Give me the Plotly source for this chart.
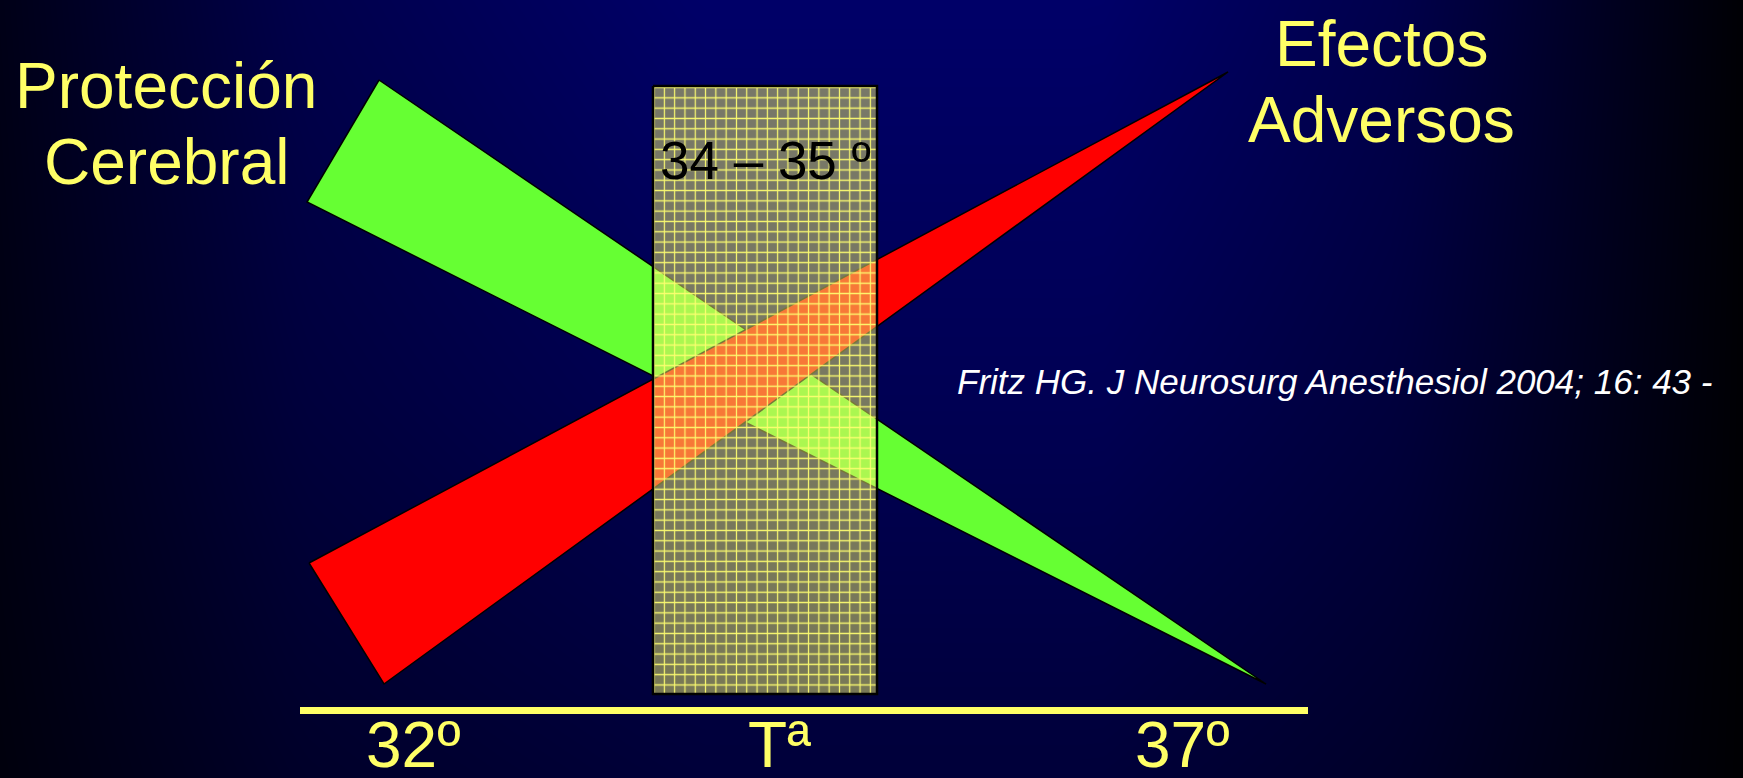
import numpy as np
import plotly.graph_objects as go

W, H = 1743, 778

# --- diagram geometry (slide pixel coordinates, y grows downward) ---
proteccion_x = [379, 307, 1266]          # green wedge: Protección Cerebral
proteccion_y = [80, 202, 684]
adversos_x = [309, 384, 1228]            # red wedge: Efectos Adversos
adversos_y = [563, 684, 72]
ventana_x = [653, 877]                   # target window 34 – 35 º
ventana_y = [86, 694]
eje_x = [300, 1308]                      # temperature axis line
eje_y = [710.5, 710.5]

etiquetas_eje = ["32º", "Tª", "37º"]
etiquetas_eje_x = [413, 779, 1182]

# background shading profile (relative brightness of the navy backdrop)
fondo_stops_x = [0, 300, 700, 1100, 1400, 1743]
fondo_nivel_x = [0.22, 0.72, 1.0, 1.0, 0.72, 0.04]
fondo_stops_y = [0, 400, 778]
fondo_nivel_y = [1.0, 0.8, 0.55]

AMARILLO = "#ffff66"
FUENTE = "Liberation Sans, Arial, sans-serif"

fig = go.Figure()

# navy gradient backdrop
gx = np.linspace(0, W, 80)
gy = np.linspace(0, H, 40)
zx = np.interp(gx, fondo_stops_x, fondo_nivel_x)
zy = np.interp(gy, fondo_stops_y, fondo_nivel_y)
fig.add_trace(go.Heatmap(
    x=gx, y=gy, z=np.outer(zy, zx),
    zmin=0, zmax=1, zsmooth="best", showscale=False, hoverinfo="skip",
    colorscale=[[0, "rgb(0,0,0)"], [1, "rgb(0,0,104)"]],
))


def cerrado(v):
    return list(v) + [v[0]]


# green wedge
fig.add_trace(go.Scatter(
    x=cerrado(proteccion_x), y=cerrado(proteccion_y), mode="lines",
    fill="toself", fillcolor="#66ff33",
    line=dict(color="black", width=1.5), hoverinfo="skip",
))
# red wedge drawn on top
fig.add_trace(go.Scatter(
    x=cerrado(adversos_x), y=cerrado(adversos_y), mode="lines",
    fill="toself", fillcolor="#ff0000",
    line=dict(color="black", width=1.5), hoverinfo="skip",
))

# translucent gridded window
rx = [ventana_x[0], ventana_x[1], ventana_x[1], ventana_x[0]]
ry = [ventana_y[0], ventana_y[0], ventana_y[1], ventana_y[1]]
fig.add_trace(go.Scatter(
    x=cerrado(rx), y=cerrado(ry), mode="lines",
    fill="toself", fillcolor="rgba(240,240,110,0.5)",
    fillpattern=dict(shape="+", size=10.3, solidity=0.22,
                     fgcolor="#ffff70", fgopacity=0.95,
                     bgcolor="rgba(240,240,110,0.5)", fillmode="replace"),
    line=dict(color="black", width=2.5), hoverinfo="skip",
))

# temperature axis
fig.add_trace(go.Scatter(
    x=eje_x, y=eje_y, mode="lines",
    line=dict(color=AMARILLO, width=7), hoverinfo="skip",
))

anot = []


def texto(t, x, base, size, color=AMARILLO, xanchor="center", italic=False):
    anot.append(dict(
        text=t, x=x, y=base - 0.36 * size, xref="x", yref="y",
        xanchor=xanchor, yanchor="middle", showarrow=False,
        font=dict(family=FUENTE, size=size, color=color,
                  style="italic" if italic else "normal"),
    ))


texto("Protección", 166, 109, 64)
texto("Cerebral", 166, 185, 64)
texto("Efectos", 1381, 67, 64)
texto("Adversos", 1381, 143, 64)
texto("34 – 35 º", 765, 180, 53, color="black")
texto("Fritz HG. J Neurosurg Anesthesiol 2004; 16: 43 -", 955, 394, 35,
      color="white", xanchor="left", italic=True)
for lab, lx in zip(etiquetas_eje, etiquetas_eje_x):
    texto(lab, lx, 768, 64)

fig.update_layout(
    width=W, height=H,
    margin=dict(l=0, r=0, t=0, b=0, pad=0),
    paper_bgcolor="#000030", plot_bgcolor="#000030",
    showlegend=False,
    xaxis=dict(range=[0, W], visible=False, fixedrange=True),
    yaxis=dict(range=[H, 0], visible=False, fixedrange=True),
    annotations=anot,
)

fig.write_html("out.html", config={"displayModeBar": False},
               post_script="document.body.style.margin='0';")
